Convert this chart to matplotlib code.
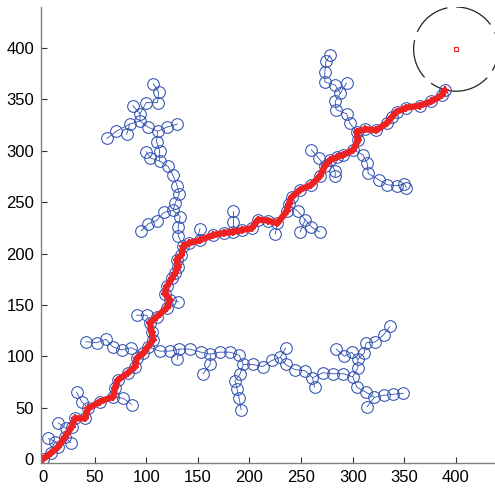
import matplotlib
matplotlib.use("Agg")
import matplotlib.pyplot as plt
from matplotlib.patches import Circle

# final path found (start -> goal region)
path_x = [0, 8, 14.8, 21, 27.8, 31, 40.7, 43.9, 55.2, 68.1, 69.7, 72.6, 82.3, 89.1, 90.8, 97.1,
          101.7, 106.5, 105.3, 103.6, 110.1, 119.8, 123, 118, 120, 125, 128, 131, 129.5, 134, 136,
          141, 152, 165, 175, 184, 193, 202, 208.5, 218, 227, 236, 238, 241, 249, 260, 268, 273,
          278, 285, 291, 300.5, 305.4, 303.8, 312, 323, 333, 338, 342.5, 352, 365, 376, 386, 389]
path_y = [0, 6, 12, 21, 31.4, 39.6, 39.6, 49.3, 55.8, 60.6, 69.1, 76.9, 83.7, 89.8, 98, 102.9,
          109.3, 115.8, 123.9, 132.4, 138.5, 147, 155, 161, 168, 176, 181, 187, 194, 198.5, 207,
          210, 213, 218, 220, 221, 223, 224.5, 233, 232, 229.5, 241, 248, 255, 262, 267, 275, 285,
          291, 294, 296, 301, 310.5, 318.6, 321, 320, 327, 333, 338, 342, 344, 348, 354, 359]

# side branches of the tree, first point = parent node
br_a = [(14.8, 12), (12, 17), (5, 20)]
br_b = [(27.8, 31.4), (22, 30), (15, 35)]
br_c = [(21, 21), (27, 16)]
br_d = [(43.9, 49.3), (37.5, 55.8), (32.6, 65)]
br_e = [(68.1, 60.6), (78, 59), (85.9, 53)]
br_left = [(97.1, 102.9), (85.2, 108.3), (76.2, 106.1), (67.5, 109.3), (61, 116.5), (52, 113.2),
           (41.6, 114.2)]
br_right = [(101.7, 109.3), (113, 105), (123, 105), (132, 107), (142, 107), (153, 104), (162, 102),
            (171, 104), (181, 104), (190, 101), (194, 92), (203, 92), (213, 90), (222, 96), (230, 99),
            (235, 92), (244, 87), (254, 86), (261, 79), (271, 84), (281, 83), (291, 83), (300, 80),
            (305, 89), (305, 97), (311, 103), (313, 113), (322, 114), (330, 121), (336, 129)]
br_r1 = [(132, 107), (130, 97)]
br_r2 = [(162, 102), (162, 92), (155, 83)]
br_r3 = [(194, 92), (191, 83), (186, 76), (188, 68), (190, 59), (192, 48)]
br_r4 = [(230, 99), (235, 108)]
br_r5 = [(261, 79), (263, 70)]
br_r6 = [(305, 97), (299, 104), (292, 100), (284, 107)]
br_r7 = [(300, 80), (304, 70), (313, 65), (321, 60), (330, 62), (339, 63), (349, 64)]
br_r8 = [(321, 60), (314, 51)]
br_f = [(103.6, 132.4), (100.4, 140), (90.7, 140)]
br_g = [(123, 155), (131, 153)]
br_up = [(136, 207), (131, 217), (131, 226), (133, 236), (126, 242), (128, 249), (132, 258),
         (130, 266), (126, 276), (121, 285), (113, 290), (113, 300), (110, 309), (111, 319),
         (102, 323), (94, 329), (94, 336), (100, 347), (111, 347), (112, 357), (107, 365)]
br_u1 = [(126, 242), (117, 240), (110, 232), (102, 229), (95, 222)]
br_u2 = [(113, 290), (104, 293), (100, 299)]
br_u3 = [(111, 319), (120, 323), (130, 326)]
br_u4 = [(94, 329), (84, 326), (71, 319), (62, 312)]
br_u5 = [(84, 326), (81, 316)]
br_u6 = [(94, 336), (87, 344)]
br_h = [(150, 216), (152, 224)]
br_i = [(184, 221), (184, 231), (184, 241)]
br_j = [(227, 229.5), (225, 219)]
br_k = [(238, 248), (247, 241), (254, 233), (260, 226), (268, 221)]
br_k1 = [(254, 233), (249, 221)]
br_l = [(273, 285), (267, 293), (260, 301)]
br_m = [(278, 291), (283, 280), (283, 275)]
br_n = [(300.5, 301), (310, 296), (314, 288), (315, 278), (325, 272), (333, 267), (343, 266),
        (350, 268), (352, 264)]
br_o = [(303.8, 318.6), (297, 327), (294, 336), (284, 340), (283, 348), (288, 356), (294, 366)]
br_o1 = [(288, 356), (283, 364), (273, 367), (273, 377), (274, 387), (278, 393)]

branches = [br_a, br_b, br_c, br_d, br_e, br_left, br_right, br_r1, br_r2, br_r3, br_r4, br_r5,
            br_r6, br_r7, br_r8, br_f, br_g, br_up, br_u1, br_u2, br_u3, br_u4, br_u5, br_u6,
            br_h, br_i, br_j, br_k, br_k1, br_l, br_m, br_n, br_o, br_o1]

goal = (400, 399)
goal_radius = 41

tree_col = "#3050b0"

fig = plt.figure(figsize=(4.95, 4.88), dpi=100)
ax = fig.add_axes([0.0828, 0.0512, 0.9172, 0.9345])

# tree edges + nodes
ax.plot(path_x, path_y, "-", color=tree_col, lw=0.6)
ax.plot(path_x, path_y, "o", mfc="none", mec=tree_col, ms=8.4, mew=0.75)
for br in branches:
    bx = [p[0] for p in br]
    by = [p[1] for p in br]
    ax.plot(bx, by, "-", color=tree_col, lw=0.6)
    ax.plot(bx[1:], by[1:], "o", mfc="none", mec=tree_col, ms=8.4, mew=0.75)

# solution path
ax.plot(path_x, path_y, "-", color="#ee2222", lw=4.6, solid_capstyle="round")
ax.plot(path_x, path_y, "+", color="#ee2222", ms=6, mew=1.5)

# goal
ax.plot(goal[0], goal[1], "s", mfc="none", mec="#ee2222", ms=3, mew=0.8)
ax.add_patch(Circle(goal, goal_radius, fill=False, ec="#222222", lw=0.9,
                    ls=(4, (32, 7)), clip_on=True))

ax.set_xlim(-1.9, 437.8)
ax.set_ylim(-3.9, 440)
ax.set_xticks(range(0, 401, 50))
ax.set_yticks(range(0, 401, 50))
for s in ["top", "right"]:
    ax.spines[s].set_visible(False)
for s in ["left", "bottom"]:
    ax.spines[s].set_color("#808080")
    ax.spines[s].set_linewidth(1.0)
ax.tick_params(direction="in", length=4, width=0.8, color="#333333",
               labelsize=12, pad=5)
for lab in ax.get_xticklabels() + ax.get_yticklabels():
    lab.set_family("Liberation Sans")

fig.savefig("out.png", dpi=100)
